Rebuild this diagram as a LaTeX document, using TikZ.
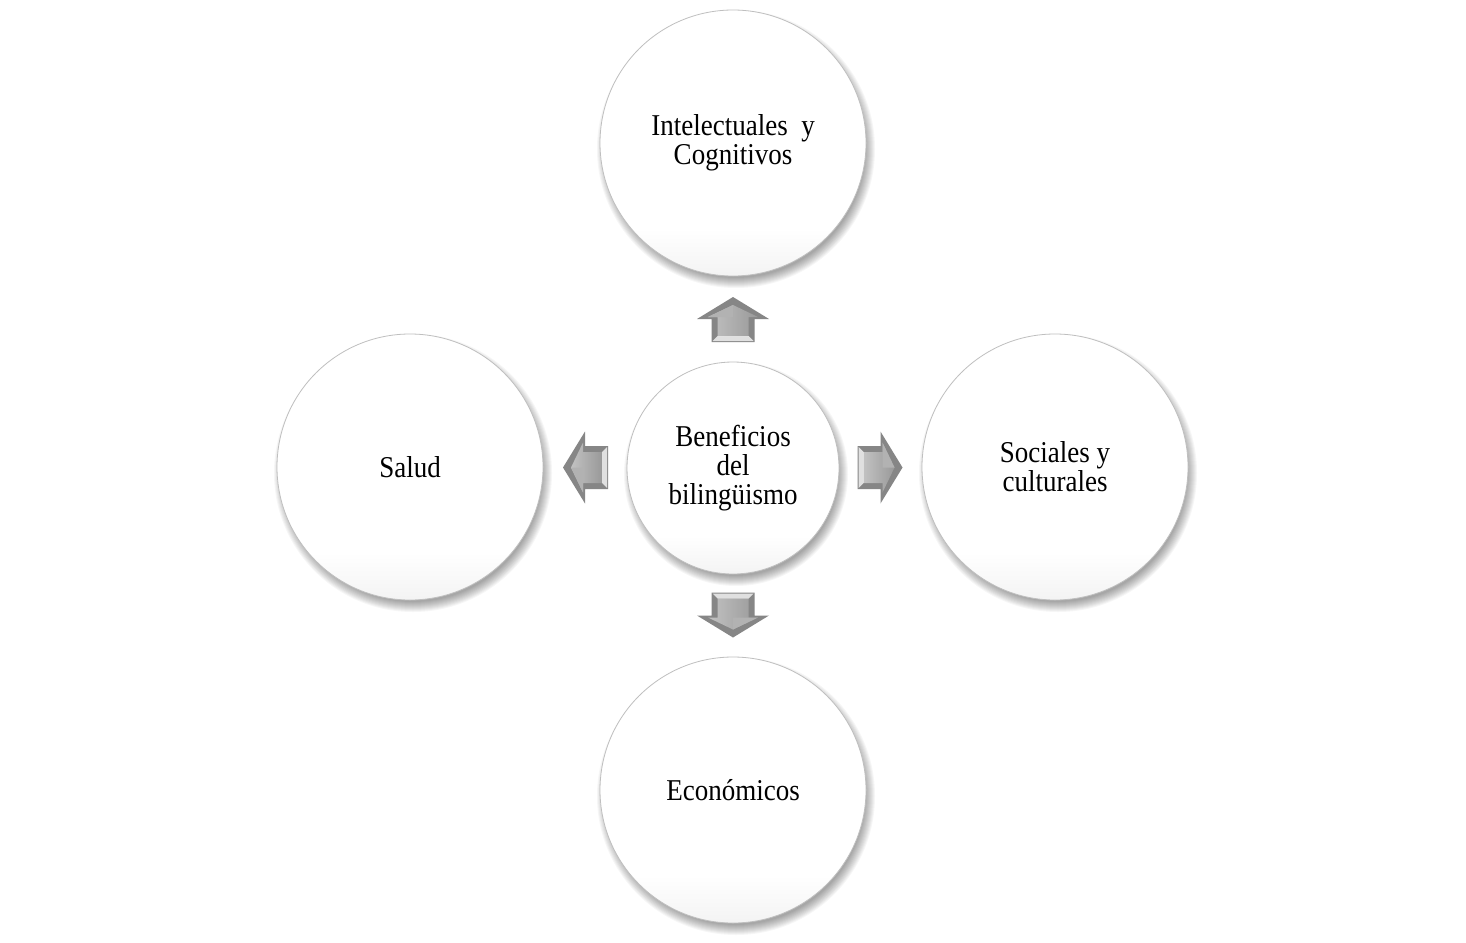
\documentclass[tikz,border=0pt]{standalone}
\usepackage{fontspec}
\setmainfont{Liberation Serif}
\usetikzlibrary{calc}
\pgfdeclareverticalshading{bubbleshade}{100bp}{%
  color(0bp)=(black!22); color(18bp)=(black!8); color(34bp)=(white); color(100bp)=(white)}
\tikzset{
  bubble/.style={circle, minimum size=#1, inner sep=0pt, draw=gray!50, line width=0.8pt,
    shading=bubbleshade},
  lbl/.style={align=center, font=\fontsize{27}{26}\selectfont, yscale=1.12, transform shape, inner sep=0pt},
  arrowpic/.pic={
    \fill[gray!95] (-23,-21.5)--(0,-21.5)--(0,-36)--(22,0)--(0,36)--(0,21.5)--(-23,21.5)--cycle;
    \shade[left color=gray!48, right color=gray!80] (-17,-15.5)--(2,-15.5)--(2,-25)--(14,0)--(2,25)--(2,15.5)--(-17,15.5)--cycle;
    \fill[gray!60] (2,-25)--(14,0)--(2,0)--cycle;
    \fill[white,opacity=0.75] (-22,-20.5)--(-17,-15.5)--(-17,15.5)--(-22,20.5)--cycle;
  }
}
\newcommand\softshadow[2]{%
  \foreach \k in {0,...,10}{\fill[black,opacity=0.035] ($(#1)+(3,6)$) circle[radius={#2pt+\k pt-4pt}];}%
}
\begin{document}
\begin{tikzpicture}[x=1pt,y=-1pt]
\useasboundingbox (0,0) rectangle (1466,942);
\fill[white] (0,0) rectangle (1466,942);
\coordinate (pT) at (733,143);
\coordinate (pL) at (410,467);
\coordinate (pR) at (1055,467);
\coordinate (pB) at (733,790);
\coordinate (pC) at (733,468);
\softshadow{pT}{133}
\softshadow{pL}{133}
\softshadow{pR}{133}
\softshadow{pB}{133}
\softshadow{pC}{106}
\node[bubble=266pt] (T) at (pT) {};
\node[bubble=266pt] (L) at (pL) {};
\node[bubble=266pt] (R) at (pR) {};
\node[bubble=266pt] (B) at (pB) {};
\node[bubble=212pt] (C) at (pC) {};
\node[lbl] (tT) at (T.center) {Intelectuales\ \ y\\Cognitivos};
\node[lbl] (tL) at (L.center) {Salud};
\node[lbl] (tR) at (R.center) {Sociales\ y\\culturales};
\node[lbl] (tB) at (B.center) {Económicos};
\node[lbl] (tC) at (C.center) {Beneficios\\del\\bilingüismo};
\pic[rotate=90] at ($(C.north)!0.5!(T.south)$) {arrowpic};
\pic[rotate=180] at ($(C.west)!0.5!(L.east)$) {arrowpic};
\pic[rotate=0] at ($(C.east)!0.5!(R.west)$) {arrowpic};
\pic[rotate=-90] at ($(C.south)!0.5!(B.north)$) {arrowpic};
\end{tikzpicture}
\end{document}
